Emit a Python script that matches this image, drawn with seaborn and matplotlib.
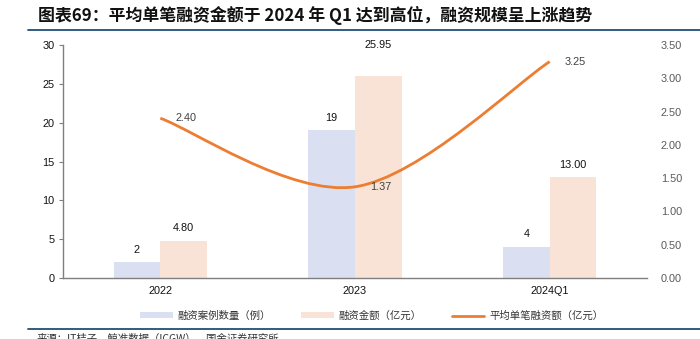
import matplotlib
matplotlib.use("Agg")
import matplotlib.pyplot as plt
from matplotlib.path import Path
from matplotlib.patches import PathPatch, Patch
from matplotlib.lines import Line2D
import seaborn as sns
import pandas as pd
import numpy as np

# ---- data ----
categories = ["2022", "2023", "2024Q1"]
deal_counts = [2, 19, 4]
deal_amounts = [4.80, 25.95, 13.00]
avg_amounts = [2.40, 1.37, 3.25]
series_names = ["融资案例数量（例）", "融资金额（亿元）", "平均单笔融资额（亿元）"]
left_ticks = [0, 5, 10, 15, 20, 25, 30]
right_ticks = [0, 0.5, 1.0, 1.5, 2.0, 2.5, 3.0, 3.5]
title = "图表69：平均单笔融资金额于 2024 年 Q1 达到高位，融资规模呈上涨趋势"
source = "来源：IT桔子，鲸准数据（ICGW），国金证券研究所"

BLUE = "#DAE0F2"
PEACH = "#F9E3D6"
ORANGE = "#ED7D31"
RULE = "#1F4E79"

sns.set_theme(style="white")
plt.rcParams['font.family'] = ['Noto Sans CJK SC', 'DejaVu Sans']

df = pd.DataFrame({
    "cat": categories * 2,
    "series": [series_names[0]] * 3 + [series_names[1]] * 3,
    "value": deal_counts + deal_amounts,
})

fig = plt.figure(figsize=(7.0, 3.39), dpi=100)
ax = fig.add_axes([63 / 700, 1 - 278 / 339, 584 / 700, 233 / 339])

sns.barplot(data=df, x="cat", y="value", hue="series", order=categories,
            hue_order=series_names[:2], palette=[BLUE, PEACH], width=0.48,
            gap=0, saturation=1, linewidth=0, ax=ax, legend=False)

ax.set_xlim(-0.5, 2.5)
ax.set_ylim(0, 30)
ax.set_yticks(left_ticks)
ax.set_xlabel("")
ax.set_ylabel("")
num_font = ['Liberation Sans', 'DejaVu Sans']
ax.set_yticklabels([str(t) for t in left_ticks], fontsize=7.8, color="#111111", family=num_font)
ax.set_xticks(range(len(categories)))
ax.set_xticklabels(categories, fontsize=7.8, color="#111111", family=num_font)
ax.tick_params(axis="y", which="both", left=True, length=3, width=0.8, color="#7F7F7F", pad=3)
ax.tick_params(axis="x", which="both", bottom=False, length=0, pad=6)
for s in ["top", "right"]:
    ax.spines[s].set_visible(False)
for s in ["left", "bottom"]:
    ax.spines[s].set_color("#7F7F7F")
    ax.spines[s].set_linewidth(1.0)

# bar labels
bw = 0.24
for i, v in enumerate(deal_counts):
    ax.annotate(f"{v:d}", (i - bw / 2, v), xytext=(0, 9), textcoords="offset points",
                ha="center", va="center", fontsize=7.8, color="#111111", family=num_font)
for i, v in enumerate(deal_amounts):
    off = 23 if v > 20 else 9
    ax.annotate(f"{v:.2f}", (i + bw / 2, v), xytext=(0, off), textcoords="offset points",
                ha="center", va="center", fontsize=7.8, color="#111111", family=num_font)

# right axis with smoothed line
ax2 = ax.twinx()
ax2.set_ylim(0, 3.5)
ax2.set_yticks(right_ticks)
ax2.set_yticklabels([f"{t:.2f}" for t in right_ticks], fontsize=7.8, color="#595959", family=num_font)
ax2.tick_params(axis="y", right=False, length=0, pad=10)
for s in ["top", "right", "left", "bottom"]:
    ax2.spines[s].set_visible(False)

xs = np.arange(len(avg_amounts), dtype=float)
ys = np.array(avg_amounts, dtype=float)
pts = np.column_stack([xs, ys])
ext = np.vstack([pts[0], pts, pts[-1]])
verts = [tuple(pts[0])]
codes = [Path.MOVETO]
for k in range(len(pts) - 1):
    p0, p1, p2, p3 = ext[k], ext[k + 1], ext[k + 2], ext[k + 3]
    c1 = p1 + (p2 - p0) / 6.0
    c2 = p2 - (p3 - p1) / 6.0
    verts += [tuple(c1), tuple(c2), tuple(p2)]
    codes += [Path.CURVE4] * 3
ax2.add_patch(PathPatch(Path(verts, codes), facecolor="none", edgecolor=ORANGE,
                        lw=2.0, capstyle="butt"))
for x, y in zip(xs, ys):
    ax2.annotate(f"{y:.2f}", (x, y), xytext=(11, 0), textcoords="offset points",
                 ha="left", va="center", fontsize=7.8, color="#404040", family=num_font)

# title and rules
fig.text(38 / 700, 1 - 15 / 339, title, fontsize=12.2, fontweight="bold",
         ha="left", va="center", color="#111111")
fig.add_artist(Line2D([28 / 700, 1.0], [1 - 30 / 339] * 2, color=RULE, lw=1.3))
fig.add_artist(Line2D([28 / 700, 1.0], [1 - 329 / 339] * 2, color=RULE, lw=1.3))

# legend
handles = [
    Patch(facecolor=BLUE, edgecolor="none", label=series_names[0]),
    Patch(facecolor=PEACH, edgecolor="none", label=series_names[1]),
    Line2D([0], [0], color=ORANGE, lw=2.0, label=series_names[2]),
]
fig.legend(handles=handles, loc="center", bbox_to_anchor=(372 / 700, 1 - 316 / 339),
           ncol=3, frameon=False, fontsize=7.5, handlelength=3.1, handleheight=0.5,
           handletextpad=0.5, columnspacing=2.9, labelcolor="#333333")

fig.text(37 / 700, 1 - 334 / 339, source, fontsize=7.5, ha="left", va="top", color="#333333")

fig.savefig("out.png", dpi=100)
